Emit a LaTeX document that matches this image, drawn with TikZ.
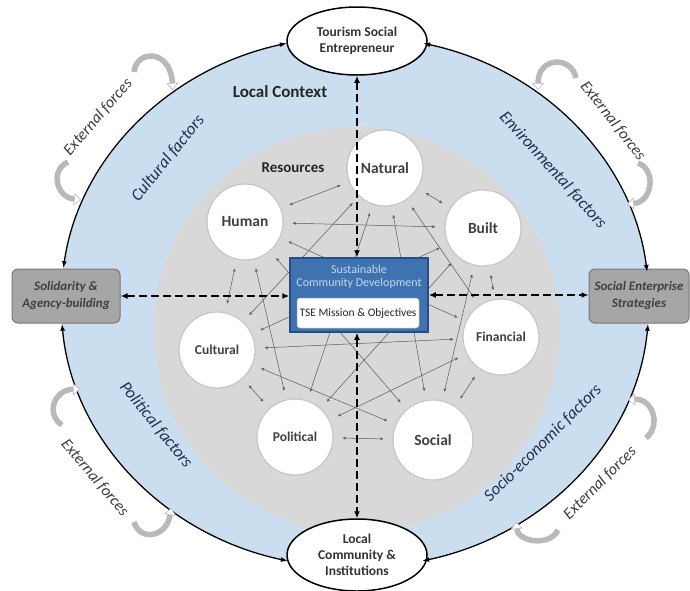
\documentclass[tikz,border=0pt]{standalone}
\usepackage{fontspec}
\setmainfont{Carlito}
\usetikzlibrary{arrows.meta,shapes.geometric,calc}
\definecolor{ctxblue}{RGB}{203,222,240}
\definecolor{resgray}{RGB}{216,216,216}
\definecolor{boxblue}{RGB}{62,114,176}
\definecolor{boxblueborder}{RGB}{38,78,130}
\definecolor{factortext}{RGB}{36,48,72}
\definecolor{sidegray}{RGB}{166,166,166}
\definecolor{sideborder}{RGB}{120,120,120}
\definecolor{restext}{RGB}{64,64,64}
\definecolor{extgray}{RGB}{185,185,185}
\definecolor{exttext}{RGB}{60,60,60}
\definecolor{linkgray}{RGB}{90,90,90}
\definecolor{subtext}{RGB}{196,216,238}
\pgfdeclarelayer{back}
\pgfdeclarelayer{links}
\pgfsetlayers{back,links,main}
\tikzset{
  res/.style={circle, fill=white, draw=gray!45, line width=1.2pt, minimum size=76pt, inner sep=0pt, text=restext, font=\bfseries\fontsize{15.5}{17}\selectfont},
  ressmall/.style={res, font=\bfseries\fontsize{13.5}{15}\selectfont},
  reslink/.style={draw=linkgray, line width=0.5pt, shorten >=9pt, shorten <=9pt, {Stealth[length=3.5pt,width=3pt]}-{Stealth[length=3.5pt,width=3pt]}},
  actor/.style={ellipse, fill=white, draw=black, line width=1.5pt, minimum width=140pt, minimum height=68pt, inner sep=0pt, align=center, font=\bfseries\fontsize{13.5}{16}\selectfont, text=black!80},
  sidebox/.style={rectangle, rounded corners=6pt, fill=sidegray, draw=sideborder, line width=1pt, minimum height=54pt, inner sep=2pt, align=center, font=\bfseries\itshape\fontsize{13}{17}\selectfont, text=black!75},
  dasharrow/.style={line width=1.8pt, dash pattern=on 8pt off 4pt, {Latex[length=7pt,width=6pt]}-{Latex[length=7pt,width=6pt]}},
  ctxarc/.style={line width=1.3pt, {Latex[length=7pt,width=5pt]}-{Latex[length=7pt,width=5pt]}},
  extarrow/.style={line width=5.5pt, draw=extgray, -{Triangle[length=7pt,width=12pt,fill=white,color=extgray,line width=0.6pt]}},
  factor/.style={font=\itshape\fontsize{17}{19}\selectfont, text=factortext},
  extlabel/.style={font=\itshape\fontsize{16}{18}\selectfont, text=exttext}
}
\begin{document}
\begin{tikzpicture}[x=1pt,y=-1pt]
\useasboundingbox (0,0) rectangle (690,590);
\begin{pgfonlayer}{back}
\fill[white] (0,0) rectangle (690,590);
\coordinate (C) at (355,302);
\fill[ctxblue] (C) ellipse [x radius=294, y radius=266];
\fill[resgray] (357,330) circle [radius=203];
\end{pgfonlayer}

% resource circles
\node[res] (nat) at (385,168) {Natural};
\node[res] (hum) at (245,222) {Human};
\node[res] (blt) at (483,228) {Built};
\node[ressmall] (cul) at (217,350) {Cultural};
\node[ressmall] (pol) at (295,437) {Political};
\node[res, minimum size=80pt] (soc) at (433,440) {Social};
\node[ressmall] (fin) at (501,337) {Financial};

\begin{pgfonlayer}{links}
\foreach \a/\b in {nat/hum,nat/blt,nat/cul,nat/pol,nat/soc,nat/fin,hum/blt,hum/cul,hum/pol,hum/soc,hum/fin,blt/cul,blt/pol,blt/soc,blt/fin,cul/pol,cul/soc,cul/fin,pol/soc,pol/fin,soc/fin}
  \draw[reslink] (\a) -- (\b);
\end{pgfonlayer}

% central box
\node[rectangle, fill=boxblue, draw=boxblueborder, line width=1.5pt, minimum width=138pt, minimum height=74pt] (sdev) at (359,295) {};
\node[text=subtext, align=center, font=\fontsize{12}{13}\selectfont] (sdevt) at (359,277) {Sustainable\\Community Development};
\node[rectangle, rounded corners=3pt, fill=white, draw=gray!60, line width=0.5pt, minimum width=122pt, minimum height=30pt, inner sep=0pt, font=\fontsize{11.5}{13}\selectfont, text=black!85] (tse) at (358,313) {TSE Mission \& Objectives};

% actors
\node[actor] (tsent) at (357,41) {Tourism Social\\Entrepreneur};
\node[actor, minimum height=72pt] (lci) at (357,555) {Local\\Community \&\\Institutions};
\node[sidebox, minimum width=108pt] (sol) at (66,296) {Solidarity \&\\Agency-building};
\node[sidebox, minimum width=100pt, inner sep=0pt] (ses) at (639,296) {Social Enterprise\\Strategies};

% dashed arrows
\draw[dasharrow] (tsent.south) -- (sdev.north -| tsent.south);
\draw[dasharrow] (sdev.south -| lci.north) -- (lci.north);
\draw[dasharrow] (sol.east) -- (sol.east -| sdev.west);
\draw[dasharrow] (sdev.east) -- (sdev.east -| ses.west);

% context arcs
\draw[ctxarc] ([shift={(187.3:294 and 266)}]C) arc[start angle=187.3, end angle=256.6, x radius=294, y radius=266];
\draw[ctxarc] ([shift={(283.4:294 and 266)}]C) arc[start angle=283.4, end angle=353.5, x radius=294, y radius=266];
\draw[ctxarc] ([shift={(4.7:294 and 266)}]C) arc[start angle=4.7, end angle=76.8, x radius=294, y radius=266];
\draw[ctxarc] ([shift={(103.2:294 and 266)}]C) arc[start angle=103.2, end angle=175.3, x radius=294, y radius=266];

% labels
\node[font=\bfseries\fontsize{17}{19}\selectfont, text=black!85] (lctx) at (280,92) {Local Context};
\node[font=\bfseries\fontsize{15}{17}\selectfont, text=black!85] (resl) at (293,168) {Resources};
\node[factor, rotate=51] (fcul) at (168,158) {Cultural factors};
\node[factor, rotate=-48] (fenv) at (553,170) {Environmental factors};
\node[factor, rotate=-51] (fpol) at (156,425) {Political factors};
\node[factor, rotate=45] (fsoc) at (543,443) {Socio-economic factors};
\node[extlabel, rotate=49] (ex1) at (98,117) {External forces};
\node[extlabel, rotate=-52] (ex2) at (613,121) {External forces};
\node[extlabel, rotate=-50] (ex3) at (95,478) {External forces};
\node[extlabel, rotate=45] (ex4) at (600,483) {External forces};

% external force arrows
\coordinate (t1) at (134,72);  \coordinate (h1) at (173,90);
\coordinate (t2) at (68,162);  \coordinate (h2) at (81,200);
\coordinate (t3) at (576,78);  \coordinate (h3) at (538,90);
\coordinate (t4) at (638,163); \coordinate (h4) at (627,204);
\coordinate (t5) at (62,425);  \coordinate (h5) at (80,389);
\coordinate (t6) at (134,522); \coordinate (h6) at (171,508);
\coordinate (t7) at (646,438); \coordinate (h7) at (628,400);
\coordinate (t8) at (558,530); \coordinate (h8) at (516,522);
\draw[extarrow] (t1) .. controls (136,50) and (170,48) .. (h1);
\draw[extarrow] (t2) .. controls (50,170) and (56,197) .. (h2);
\draw[extarrow] (t3) .. controls (572,56) and (538,56) .. (h3);
\draw[extarrow] (t4) .. controls (657,170) and (652,202) .. (h4);
\draw[extarrow] (t5) .. controls (46,415) and (53,390) .. (h5);
\draw[extarrow] (t6) .. controls (140,542) and (167,537) .. (h6);
\draw[extarrow] (t7) .. controls (662,425) and (652,398) .. (h7);
\draw[extarrow] (t8) .. controls (550,547) and (518,542) .. (h8);
\end{tikzpicture}
\end{document}
